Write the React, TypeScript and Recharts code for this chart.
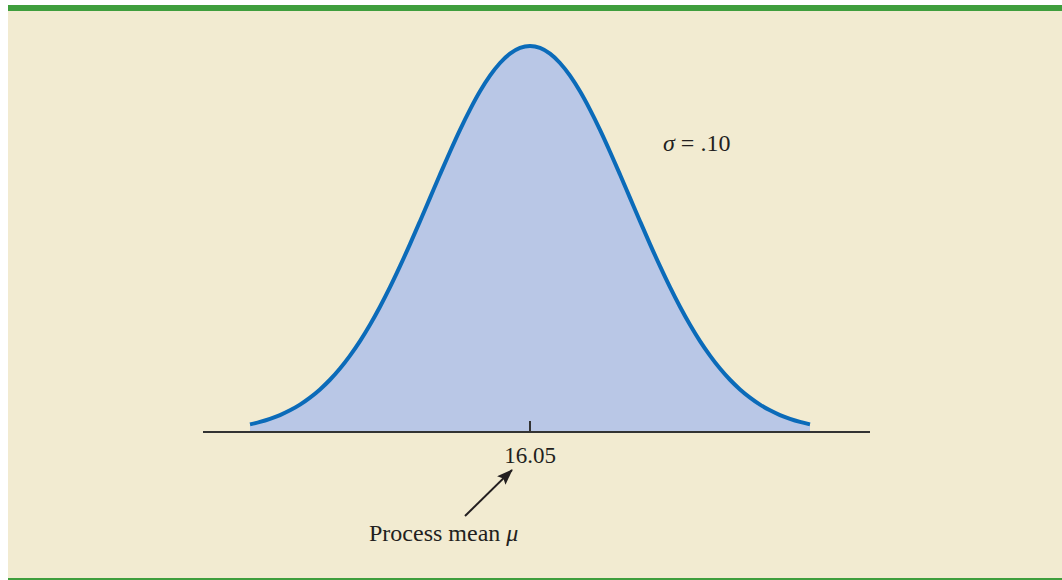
import { AreaChart, Area, XAxis, YAxis } from "recharts";

// process output in ounces, one point every 0.01
const weights = [
  15.77, 15.78, 15.79, 15.8, 15.81, 15.82, 15.83, 15.84, 15.85, 15.86,
  15.87, 15.88, 15.89, 15.9, 15.91, 15.92, 15.93, 15.94, 15.95, 15.96,
  15.97, 15.98, 15.99, 16.0, 16.01, 16.02, 16.03, 16.04, 16.05, 16.06,
  16.07, 16.08, 16.09, 16.1, 16.11, 16.12, 16.13, 16.14, 16.15, 16.16,
  16.17, 16.18, 16.19, 16.2, 16.21, 16.22, 16.23, 16.24, 16.25, 16.26,
  16.27, 16.28, 16.29, 16.3, 16.31, 16.32, 16.33,
];
const heights = [
  0.079, 0.104, 0.136, 0.175, 0.224, 0.283, 0.355, 0.44, 0.54, 0.656,
  0.79, 0.94, 1.109, 1.295, 1.497, 1.714, 1.942, 2.179, 2.42, 2.661,
  2.897, 3.123, 3.332, 3.521, 3.683, 3.814, 3.91, 3.97, 3.989, 3.97,
  3.91, 3.814, 3.683, 3.521, 3.332, 3.123, 2.897, 2.661, 2.42, 2.179,
  1.942, 1.714, 1.497, 1.295, 1.109, 0.94, 0.79, 0.656, 0.54, 0.44,
  0.355, 0.283, 0.224, 0.175, 0.136, 0.104, 0.079,
];
const meanTicks = [16.05];
const meanLabel = "16.05";
const sigmaLabel = ".10";

const data = weights.map((w, i) => ({ w, h: heights[i] }));

const SERIF = '"Liberation Serif", "DejaVu Serif", serif';
const BG = "#F2EBD1";
const GREEN = "#3F9E3D";

function MeanTick(props: any) {
  const { x, y, payload } = props;
  return (
    <g>
      <line x1={x} x2={x} y1={y - 11} y2={y} stroke="#333" strokeWidth={2} />
      <text x={x} y={y + 31} textAnchor="middle" fontFamily={SERIF} fontSize={23} fill="#231f20">
        {payload.value === 16.05 ? meanLabel : payload.value}
      </text>
    </g>
  );
}

export default function App() {
  return (
    <div style={{ position: "fixed", left: 0, top: 0, width: 1062, height: 580, background: "#fff" }}>
      <div style={{ position: "absolute", left: 8, top: 5, right: 0, height: 6, background: GREEN }} />
      <div style={{ position: "absolute", left: 8, top: 11, right: 0, bottom: 2, background: BG }} />
      <div style={{ position: "absolute", left: 8, bottom: 0, right: 0, height: 2, background: GREEN }} />
      <div style={{ position: "absolute", left: 0, top: 0 }}>
        <AreaChart width={1062} height={580} data={data} margin={{ top: 45, right: 192, left: 203, bottom: 108 }}>
          <XAxis
            dataKey="w"
            type="number"
            domain={[15.723, 16.39]}
            ticks={meanTicks}
            tick={<MeanTick />}
            tickLine={false}
            tickSize={0}
            tickMargin={0}
            height={40}
            axisLine={{ stroke: "#333", strokeWidth: 2 }}
          />
          <YAxis hide domain={[0, 4]} />
          <Area
            type="monotone"
            dataKey="h"
            stroke="#0B6BB9"
            strokeWidth={4}
            fill="#B9C7E6"
            fillOpacity={1}
            isAnimationActive={false}
          />
        </AreaChart>
      </div>
      <svg width={1062} height={580} style={{ position: "absolute", left: 0, top: 0, pointerEvents: "none" }}>
        <defs>
          <marker id="head" markerWidth="16" markerHeight="12" refX="15" refY="6" orient="auto" markerUnits="userSpaceOnUse">
            <path d="M0,0 L16,6 L0,12 L3,6 Z" fill="#231f20" />
          </marker>
        </defs>
        <line x1={465} y1={516} x2={512} y2={470} stroke="#231f20" strokeWidth={2} markerEnd="url(#head)" />
        <text x={369} y={541} fontFamily={SERIF} fontSize={24} fill="#231f20">
          Process mean <tspan fontStyle="italic">μ</tspan>
        </text>
        <text x={663} y={151} fontFamily={SERIF} fontSize={24} fill="#231f20">
          <tspan fontStyle="italic">σ</tspan> = {sigmaLabel}
        </text>
      </svg>
    </div>
  );
}
